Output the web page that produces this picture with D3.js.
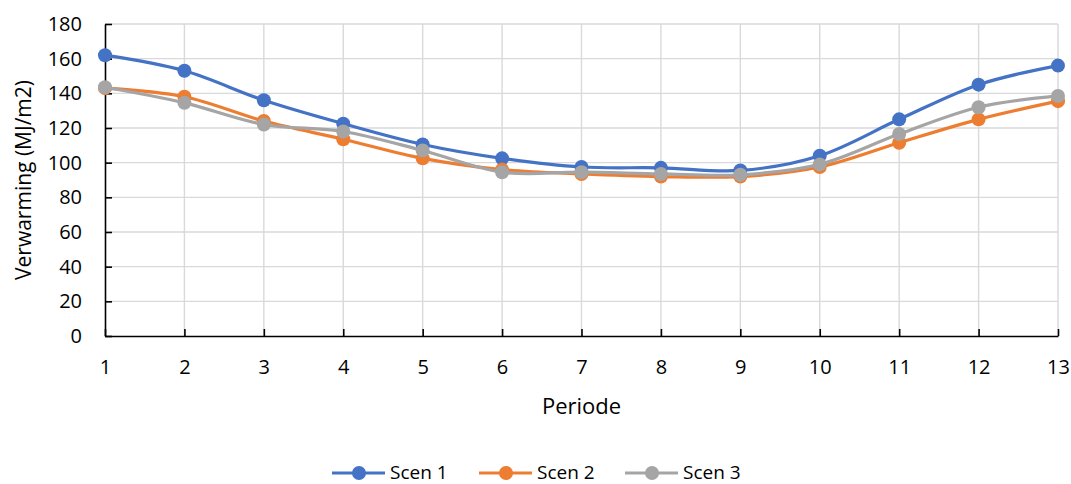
<!DOCTYPE html>
<html>
<head>
<meta charset="utf-8">
<script src="https://cdn.jsdelivr.net/npm/d3@7"></script>
<style>
  body { margin: 0; background: #fff; }
  svg { display: block; font-family: "Open Sans", sans-serif; }
</style>
</head>
<body>
<svg id="chart" width="1071" height="484"></svg>
<script>
const periods = [1, 2, 3, 4, 5, 6, 7, 8, 9, 10, 11, 12, 13];
const scen1 = [162, 153, 136, 122.5, 110.5, 102.5, 97.5, 97, 95.5, 104, 125, 145, 156];
const scen2 = [143, 138, 124, 113.5, 102.5, 96, 93.5, 92, 92, 97.5, 111.5, 125, 135.5];
const scen3 = [143.5, 134.5, 122, 118, 107, 94.5, 94.5, 93.5, 93, 99, 116.5, 132, 138.5];
const seriesNames = ["Scen 1", "Scen 2", "Scen 3"];
const yTicks = [0, 20, 40, 60, 80, 100, 120, 140, 160, 180];

const colors = ["#4472C4", "#ED7D31", "#A5A5A5"];
const seriesData = [scen1, scen2, scen3];

const margin = { top: 24, right: 13, bottom: 148, left: 105 },
      width = 1071 - margin.left - margin.right,
      height = 484 - margin.top - margin.bottom;

const svg = d3.select("#chart");
const g = svg.append("g")
  .attr("transform", `translate(${margin.left}, ${margin.top})`);

const x = d3.scaleLinear().domain([1, 13]).range([0, width]);
const y = d3.scaleLinear().domain([0, 180]).range([height, 0]);

// gridlines
g.append("g")
  .selectAll("line")
  .data(yTicks.slice(1))
  .join("line")
  .attr("x1", 0).attr("x2", width)
  .attr("y1", d => y(d)).attr("y2", d => y(d))
  .attr("stroke", "#d9d9d9").attr("stroke-width", 1.4);

g.append("g")
  .selectAll("line")
  .data(periods.slice(1))
  .join("line")
  .attr("x1", d => x(d)).attr("x2", d => x(d))
  .attr("y1", 0).attr("y2", height)
  .attr("stroke", "#d9d9d9").attr("stroke-width", 1.4);

// axes
const yAxis = g.append("g")
  .call(d3.axisLeft(y).tickValues(yTicks).tickSizeInner(-7).tickSizeOuter(0).tickPadding(23));
const xAxis = g.append("g")
  .attr("transform", `translate(0, ${height})`)
  .call(d3.axisBottom(x).tickValues(periods).tickFormat(d3.format("d")).tickSizeInner(-7).tickSizeOuter(0).tickPadding(24));

[yAxis, xAxis].forEach(a => {
  a.selectAll("path, line").attr("stroke", "#000").attr("stroke-width", 1.6);
  a.selectAll("text")
    .style("font-size", "20px")
    .style("fill", "#000")
    .style("font-family", "'Open Sans', sans-serif");
});

// axis titles
svg.append("text")
  .attr("x", margin.left + width / 2)
  .attr("y", 414)
  .attr("text-anchor", "middle")
  .style("font-size", "22px")
  .text("Periode");

svg.append("text")
  .attr("transform", `translate(31, ${margin.top + height / 2}) rotate(-90)`)
  .attr("text-anchor", "middle")
  .style("font-size", "21px")
  .text("Verwarming (MJ/m2)");

// lines
const line = d3.line()
  .x((d, i) => x(periods[i]))
  .y(d => y(d))
  .curve(d3.curveCatmullRom.alpha(0.5));

seriesData.forEach((s, k) => {
  g.append("path")
    .datum(s)
    .attr("fill", "none")
    .attr("stroke", colors[k])
    .attr("stroke-width", 3.2)
    .attr("stroke-linejoin", "round")
    .attr("d", line);

  g.append("g")
    .selectAll("circle")
    .data(s)
    .join("circle")
    .attr("cx", (d, i) => x(periods[i]))
    .attr("cy", d => y(d))
    .attr("r", 7)
    .attr("fill", colors[k]);
});

// legend
const legendX = [332, 479, 625];
const legend = svg.append("g").attr("transform", "translate(0, 473)");
seriesNames.forEach((name, k) => {
  const item = legend.append("g").attr("transform", `translate(${legendX[k]}, 0)`);
  item.append("line")
    .attr("x1", 0).attr("x2", 53)
    .attr("stroke", colors[k]).attr("stroke-width", 3.2);
  item.append("circle")
    .attr("cx", 27).attr("r", 7)
    .attr("fill", colors[k]);
  item.append("text")
    .attr("x", 58).attr("dy", "0.3em")
    .style("font-size", "19px")
    .text(name);
});
</script>
</body>
</html>
